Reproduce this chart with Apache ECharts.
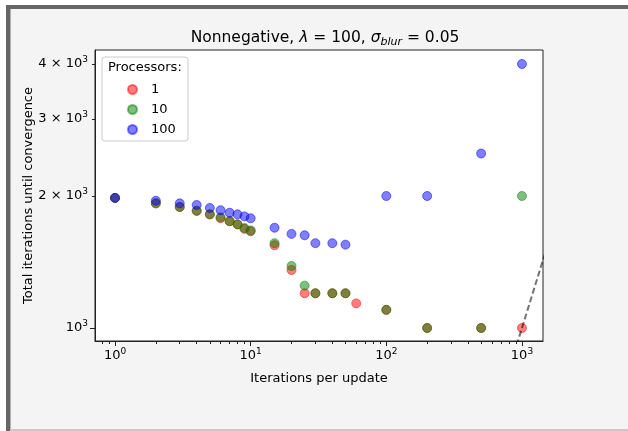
<!DOCTYPE html>
<html>
<head>
<meta charset="utf-8">
<title>Nonnegative</title>
<script src="https://cdn.jsdelivr.net/npm/echarts@6.0.0/dist/echarts.min.js"></script>
<style>
    html, body { margin: 0; padding: 0; background: #fff; }
    #chart { width: 628px; height: 431px; }
</style>
</head>
<body>
<div id="chart"></div>
<script>
// iterations per update (x) for each processor count
const xProc1 = [1, 2, 3, 4, 5, 6, 7, 8, 9, 10, 15, 20, 25, 30, 40, 50, 60, 100, 200, 500, 1000];
const yProc1 = [1980, 1924, 1888, 1850, 1816, 1780, 1752, 1723, 1683, 1662, 1544, 1356, 1200, 1200, 1200, 1200, 1138, 1100, 1000, 1000, 1000];

const xProc10 = [1, 2, 3, 4, 5, 6, 7, 8, 9, 10, 15, 20, 25, 30, 40, 50, 100, 200, 500, 1000];
const yProc10 = [1980, 1924, 1888, 1850, 1816, 1788, 1752, 1723, 1690, 1669, 1561, 1385, 1249, 1200, 1200, 1200, 1100, 1000, 1000, 2000];

const xProc100 = [1, 2, 3, 4, 5, 6, 7, 8, 9, 10, 15, 20, 25, 30, 40, 50, 100, 200, 500, 1000];
const yProc100 = [1980, 1951, 1924, 1908, 1878, 1856, 1832, 1816, 1797, 1779, 1693, 1639, 1627, 1561, 1561, 1549, 2000, 2000, 2500, 4000];

// reference line y = x
const identityEnds = [1, 10000];

const xMajorTicks = [1, 10, 100, 1000];
const xMinorTicks = [0.8, 0.9, 2, 3, 4, 5, 6, 7, 8, 9, 20, 30, 40, 50, 60, 70, 80, 90, 200, 300, 400, 500, 600, 700, 800, 900];
const yMajorTicks = [1000];
const yLabelTicks = [1000, 2000, 3000, 4000];
const yMinorTicks = [2000, 3000, 4000];

const FONT = 'DejaVu Sans';

const pairs = (xs, ys) => xs.map((x, i) => [x, ys[i]]);

// 10^k  /  m x 10^k labels
const logLabel = (v) => {
    const e = Math.floor(Math.log10(v) + 1e-9);
    const m = Math.round(v / Math.pow(10, e));
    return (m === 1 ? '' : m + ' × ') + '10{sup|' + e + '}';
};

const labelRich = {
    sup: { fontSize: 9, fontFamily: FONT, color: '#000', lineHeight: 10, verticalAlign: 'top' }
};

const scatterSeries = (name, data, rgb) => ({
    name: name,
    type: 'scatter',
    data: data,
    symbol: 'circle',
    symbolSize: 9,
    itemStyle: {
        color: 'rgba(' + rgb + ',0.5)',
        borderColor: 'rgba(' + rgb + ',0.5)',
        borderWidth: 1,
        opacity: 1
    },
    emphasis: { disabled: true }
});

const chart = echarts.init(document.getElementById('chart'));

const option = {
    backgroundColor: '#fff',
    animation: false,
    textStyle: { fontFamily: FONT },
    graphic: [
        { type: 'rect', z: -100, shape: { x: 6, y: 5, width: 622, height: 426 }, style: { fill: '#f4f4f4' } },
        { type: 'rect', z: -99, shape: { x: 6, y: 5, width: 622, height: 4 }, style: { fill: '#666' } },
        { type: 'rect', z: -99, shape: { x: 6, y: 5, width: 4, height: 426 }, style: { fill: '#666' } },
        { type: 'rect', z: -99, shape: { x: 10, y: 9, width: 1, height: 422 }, style: { fill: '#b0b0b0' } },
        { type: 'rect', z: -99, shape: { x: 10, y: 429, width: 618, height: 2 }, style: { fill: '#c8c8c8' } },
        // legend frame
        {
            type: 'rect', z: 10,
            shape: { x: 102, y: 57, width: 86, height: 84, r: 3 },
            style: { fill: 'rgba(255,255,255,0.8)', stroke: '#cccccc', lineWidth: 1 }
        },
        {
            type: 'text', z: 11, left: 108, top: 61,
            style: { text: 'Processors:', fontSize: 13, fontFamily: FONT, fill: '#000' }
        }
    ],
    title: {
        text: '{n|Nonnegative, }{i|λ}{n| = 100, }{i|σ}{s|blur}{n| = 0.05}',
        left: 320,
        top: 23,
        textAlign: 'center',
        textStyle: {
            fontWeight: 'normal',
            rich: {
                n: { fontSize: 15.5, fontFamily: FONT, fontWeight: 'normal', color: '#000', lineHeight: 20 },
                i: { fontSize: 15.5, fontFamily: FONT, fontWeight: 'normal', fontStyle: 'italic', color: '#000', lineHeight: 20 },
                s: { fontSize: 11, fontFamily: FONT, fontWeight: 'normal', fontStyle: 'italic', color: '#000', lineHeight: 11, verticalAlign: 'bottom' }
            }
        }
    },
    legend: {
        orient: 'vertical',
        left: 122,
        top: 78,
        z: 12,
        itemWidth: 9,
        itemHeight: 9,
        itemGap: 7,
        icon: 'circle',
        data: ['1', '10', '100'],
        textStyle: { fontSize: 13, fontFamily: FONT, color: '#000', padding: [0, 0, 0, 9] }
    },
    grid: {
        left: 95,
        top: 50,
        width: 448,
        height: 291,
        show: true,
        backgroundColor: '#fff',
        borderColor: '#222',
        borderWidth: 1
    },
    xAxis: [
        {
            type: 'log',
            logBase: 10,
            min: 0.712,
            max: 1429,
            name: 'Iterations per update',
            nameLocation: 'middle',
            nameGap: 31,
            nameMoveOverlap: false,
            nameTextStyle: { fontSize: 13, fontFamily: FONT, color: '#000' },
            axisLine: { show: true, lineStyle: { color: '#222', width: 1 } },
            axisTick: { show: true, customValues: xMajorTicks, length: 5, lineStyle: { color: '#222' } },
            axisLabel: {
                customValues: xMajorTicks,
                margin: 6,
                fontSize: 13,
                fontFamily: FONT,
                color: '#000',
                lineHeight: 17,
                formatter: (v) => logLabel(v),
                rich: labelRich
            },
            splitLine: { show: false },
            minorTick: { show: false }
        },
        {
            type: 'log',
            logBase: 10,
            min: 0.712,
            max: 1429,
            position: 'bottom',
            axisLine: { show: false },
            axisTick: { show: true, customValues: xMinorTicks, length: 3, lineStyle: { color: '#222' } },
            axisLabel: { show: false },
            splitLine: { show: false }
        }
    ],
    yAxis: [
        {
            type: 'log',
            logBase: 10,
            min: 934,
            max: 4305,
            name: 'Total iterations until convergence',
            nameLocation: 'middle',
            nameGap: 60,
            nameMoveOverlap: false,
            nameRotate: 90,
            nameTextStyle: { fontSize: 13, fontFamily: FONT, color: '#000' },
            axisLine: { show: true, lineStyle: { color: '#222', width: 1 } },
            axisTick: { show: true, customValues: yMajorTicks, length: 5, lineStyle: { color: '#222' } },
            axisLabel: {
                customValues: yLabelTicks,
                margin: 7,
                fontSize: 13,
                fontFamily: FONT,
                color: '#000',
                lineHeight: 17,
                formatter: (v) => logLabel(v),
                rich: labelRich
            },
            splitLine: { show: false },
            minorTick: { show: false }
        },
        {
            type: 'log',
            logBase: 10,
            min: 934,
            max: 4305,
            position: 'left',
            axisLine: { show: false },
            axisTick: { show: true, customValues: yMinorTicks, length: 3, lineStyle: { color: '#222' } },
            axisLabel: { show: false },
            splitLine: { show: false }
        }
    ],
    series: [
        scatterSeries('1', pairs(xProc1, yProc1), '255,0,0'),
        scatterSeries('10', pairs(xProc10, yProc10), '0,128,0'),
        scatterSeries('100', pairs(xProc100, yProc100), '0,0,255'),
        {
            type: 'line',
            data: identityEnds.map((v) => [v, v]),
            showSymbol: false,
            silent: true,
            clip: true,
            lineStyle: { color: 'rgba(0,0,0,0.55)', width: 2, type: [6, 3] },
            z: 3
        }
    ]
};

chart.setOption(option);
</script>
</body>
</html>
